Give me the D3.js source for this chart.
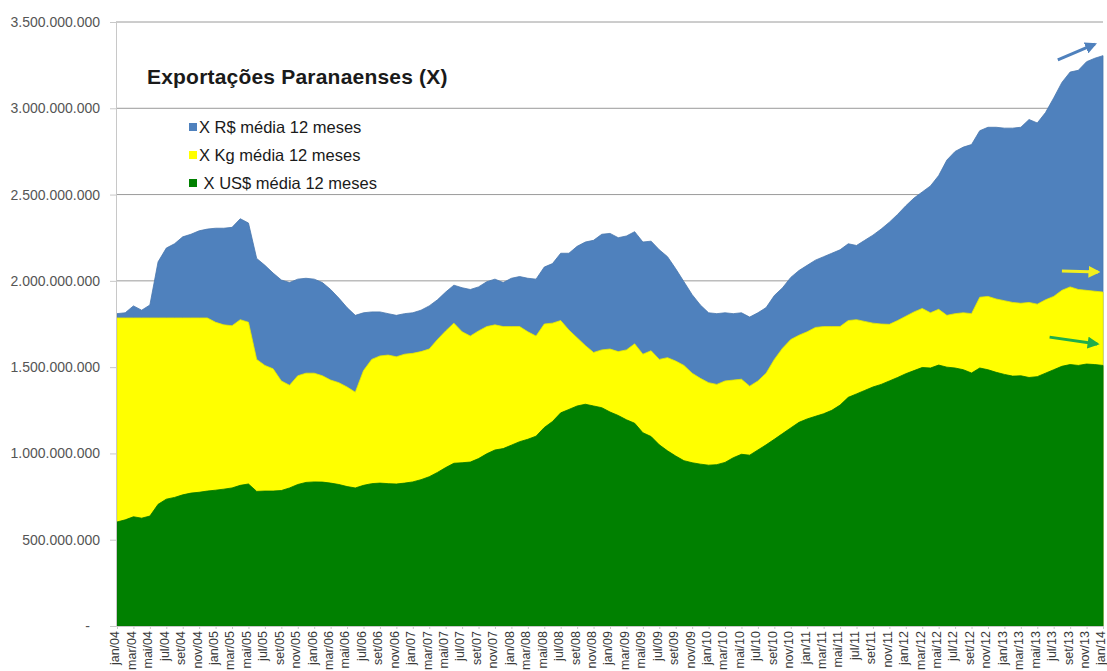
<!DOCTYPE html>
<html>
<head>
<meta charset="utf-8">
<script src="https://cdn.jsdelivr.net/npm/d3@7"></script>
<style>
  html, body { margin: 0; padding: 0; background: #fff; }
  svg { display: block; }
  text { font-family: "Liberation Sans", Arial, sans-serif; }
</style>
</head>
<body>
<svg id="chart" width="1107" height="671"></svg>
<script>
// ---------- DATA ----------
const monthNames = ["jan","fev","mar","abr","mai","jun","jul","ago","set","out","nov","dez"];
const years = ["04","05","06","07","08","09","10","11","12","13","14"];
const categories = [];
years.forEach((y, yi) => monthNames.forEach((m, mi) => {
  if (yi < years.length - 1 || mi === 0) categories.push(m + "/" + y);
}));

// values in millions
const xRS = [1810,1815,1855,1830,1860,2110,2190,2215,2255,2270,2290,2300,2305,2305,2310,2360,2335,2130,2090,2045,
  2005,1990,2010,2015,2010,1990,1950,1900,1845,1800,1815,1820,1820,1810,1800,1810,1815,1830,1855,1890,
  1935,1975,1960,1950,1965,1995,2010,1990,2015,2025,2015,2010,2080,2100,2160,2160,2200,2225,2235,2270,
  2275,2250,2260,2285,2225,2230,2180,2140,2070,1995,1920,1860,1815,1810,1815,1810,1815,1790,1815,1845,
  1915,1960,2020,2060,2090,2120,2140,2160,2180,2215,2205,2235,2265,2300,2340,2385,2435,2480,2515,2550,
  2610,2700,2750,2775,2790,2870,2890,2890,2885,2885,2890,2935,2915,2975,3060,3150,3210,3220,3270,3290,3305];

const xKG = [1785,1785,1785,1785,1785,1785,1785,1785,1785,1785,1785,1785,1760,1745,1740,1775,1760,1545,1510,1490,
  1420,1395,1450,1465,1465,1450,1425,1410,1385,1355,1480,1545,1565,1570,1560,1575,1580,1590,1605,1660,
  1710,1755,1705,1680,1710,1735,1745,1735,1735,1735,1705,1680,1750,1755,1770,1715,1670,1625,1585,1600,
  1605,1590,1600,1635,1575,1595,1545,1555,1535,1510,1465,1435,1410,1400,1420,1425,1430,1390,1420,1465,
  1545,1610,1660,1685,1705,1730,1735,1735,1735,1770,1775,1765,1755,1750,1748,1770,1795,1820,1840,1815,
  1835,1800,1810,1815,1810,1905,1910,1895,1885,1875,1870,1875,1865,1890,1910,1945,1965,1950,1945,1940,1935];

const xUSD = [603,615,633,625,637,705,735,745,760,770,775,782,787,793,800,815,823,780,782,782,
  785,800,820,832,835,834,828,820,808,800,815,825,828,825,823,828,835,848,865,890,
  918,943,946,950,970,998,1020,1028,1048,1068,1082,1100,1150,1185,1235,1255,1275,1285,1275,1265,
  1240,1220,1195,1175,1120,1098,1050,1015,985,958,946,938,932,935,948,975,995,990,1020,1050,
  1082,1115,1148,1180,1200,1215,1230,1250,1280,1325,1345,1365,1385,1400,1420,1440,1462,1480,1498,1495,
  1512,1500,1495,1485,1466,1495,1485,1470,1458,1448,1450,1440,1445,1465,1485,1505,1515,1510,1518,1515,1510];

const yTicks = [0, 500000000, 1000000000, 1500000000, 2000000000, 2500000000, 3000000000, 3500000000];

const seriesNames = ["X R$ média 12 meses", "X Kg média 12 meses", " X US$ média 12 meses"];
const titleText = "Exportações Paranaenses (X)";

// trend arrows (category index, value) -> (category index, value)
const arrowsData = [
  {from: [114.5, 3280e6], to: [119, 3372e6], color: "#4F81BD"},
  {from: [115, 2057e6], to: [119.4, 2051e6], color: "#F2EE1E"},
  {from: [113.5, 1674e6], to: [119.3, 1634e6], color: "#1FAE4A"}
];

// ---------- LAYOUT ----------
const colors = ["#4F81BD", "#FFFF00", "#008000"];
const svg = d3.select("#chart");
const plotL = 117, plotR = 1103, plotT = 22, plotB = 626;

const x = d3.scaleLinear().domain([0, categories.length - 1]).range([plotL, plotR]);
const y = d3.scaleLinear().domain([0, 3500000000]).range([plotB, plotT]);

// gridlines
svg.append("g").selectAll("line").data(yTicks.slice(1)).join("line")
  .attr("x1", plotL - 1).attr("x2", plotR)
  .attr("y1", d => y(d)).attr("y2", d => y(d))
  .attr("stroke", "#9a9a9a").attr("stroke-width", 1);

// areas
const area = d3.area().x((d, i) => x(i)).y0(y(0)).y1(d => y(d * 1e6));
[xRS, xKG, xUSD].forEach((s, k) => {
  svg.append("path").datum(s).attr("d", area)
    .attr("fill", colors[k])
    .attr("stroke", d3.color(colors[k]).darker(0.25))
    .attr("stroke-width", 0.8)
    .attr("stroke-linejoin", "round");
});

// y axis
const fmt = v => v === 0 ? "-" : d3.format(",")(v).replace(/,/g, ".");
const yAxis = d3.axisLeft(y).tickValues(yTicks).tickFormat(fmt).tickSize(6).tickPadding(10);
const gy = svg.append("g").attr("transform", `translate(${plotL - 1},0)`).call(yAxis);
gy.select(".domain").attr("stroke", "#c8c8c8");
gy.selectAll(".tick line").attr("stroke", "#c8c8c8");
gy.selectAll(".tick text").attr("fill", "#555").style("font-size", "14px")
  .style("font-family", "'Liberation Sans', Arial, sans-serif")
  .attr("dx", d => d === 0 ? -10 : 0);

// x axis
const xAxis = d3.axisBottom(x)
  .tickValues(d3.range(0, categories.length, 2))
  .tickFormat(i => categories[i]).tickSize(3);
const gx = svg.append("g").attr("transform", `translate(0,${plotB})`).call(xAxis);
gx.select(".domain").attr("stroke", "#c8c8c8");
gx.selectAll(".tick line").attr("stroke", "#c8c8c8");
gx.selectAll(".tick text")
  .attr("fill", "#3a3a3a").style("font-size", "12.5px")
  .style("font-family", "'Liberation Sans', Arial, sans-serif")
  .attr("text-anchor", "end")
  .attr("transform", "rotate(-90)")
  .attr("x", -5).attr("y", 0).attr("dy", "0.15em");

// title
svg.append("text").attr("x", 147).attr("y", 84)
  .style("font-size", "21px").style("font-weight", "bold").style("letter-spacing", "0.2px")
  .attr("fill", "#1a1a1a")
  .text(titleText);

// legend
const leg = svg.append("g");
seriesNames.forEach((name, k) => {
  const cy = 127 + k * 28;
  leg.append("rect").attr("x", 189).attr("y", cy - 4).attr("width", 8).attr("height", 8)
    .attr("fill", colors[k]);
  leg.append("text").attr("x", 199).attr("y", cy).attr("dy", "0.35em")
    .style("font-size", "16.5px").style("white-space", "pre").attr("fill", "#1a1a1a")
    .text(name);
});

// arrows
const defs = svg.append("defs");
arrowsData.forEach((a, k) => {
  defs.append("marker").attr("id", "arr" + k).attr("viewBox", "0 0 10 10")
    .attr("refX", 8).attr("refY", 5).attr("markerWidth", 4).attr("markerHeight", 4)
    .attr("orient", "auto")
    .append("path").attr("d", "M0,0 L10,5 L0,10 z").attr("fill", a.color);
  svg.append("line")
    .attr("x1", x(a.from[0])).attr("y1", y(a.from[1]))
    .attr("x2", x(a.to[0])).attr("y2", y(a.to[1]))
    .attr("stroke", a.color).attr("stroke-width", 3)
    .attr("marker-end", `url(#arr${k})`);
});
</script>
</body>
</html>
